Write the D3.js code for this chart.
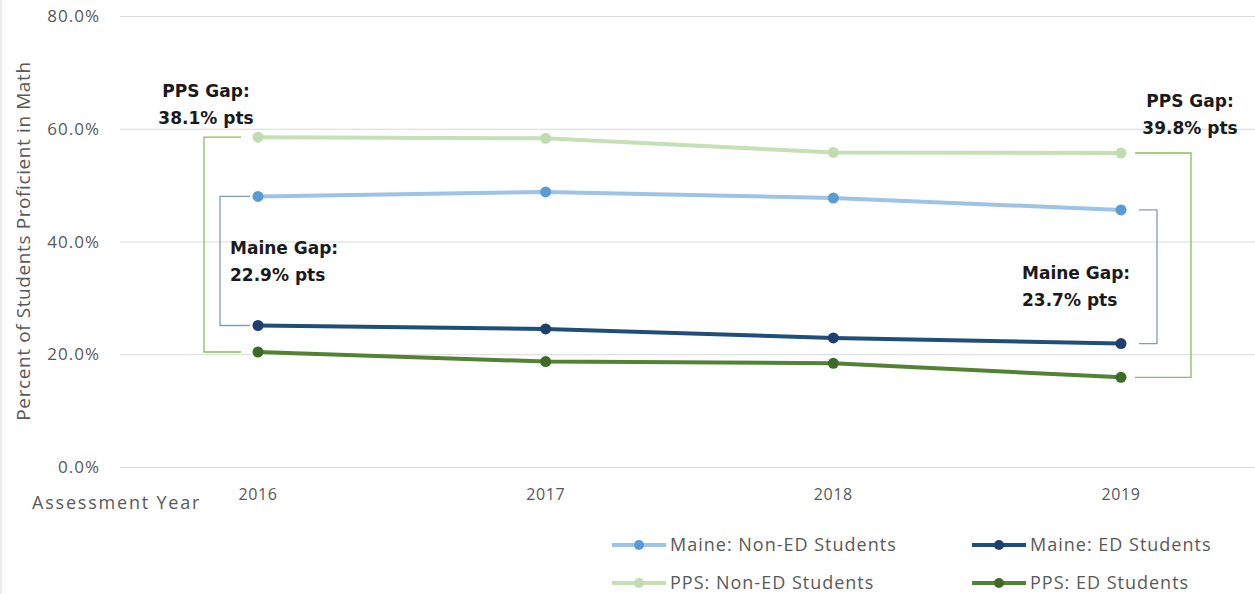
<!DOCTYPE html>
<html>
<head>
<meta charset="utf-8">
<script src="https://cdn.jsdelivr.net/npm/d3@7"></script>
<style>
  body { margin: 0; background: #fff; }
  svg { display: block; font-family: 'Open Sans', sans-serif; }
</style>
</head>
<body>
<svg id="chart"></svg>
<script>
const years = ['2016', '2017', '2018', '2019'];
const maineNonEd = [48.0, 48.8, 47.7, 45.6];
const maineEd = [25.1, 24.5, 22.9, 21.9];
const ppsNonEd = [58.5, 58.3, 55.8, 55.7];
const ppsEd = [20.4, 18.7, 18.4, 15.9];
const yTicks = [0, 20, 40, 60, 80];

const series = [
  { name: 'Maine: Non-ED Students', values: maineNonEd, line: '#9dc3e6', dot: '#5b9bd5' },
  { name: 'Maine: ED Students', values: maineEd, line: '#1f4e79', dot: '#1f3f6e' },
  { name: 'PPS: Non-ED Students', values: ppsNonEd, line: '#c5e0b4', dot: '#c0dcb0' },
  { name: 'PPS: ED Students', values: ppsEd, line: '#548235', dot: '#3d6b26' }
];

const width = 1255, height = 594;
const svg = d3.select('#chart').attr('width', width).attr('height', height);

const x = d3.scalePoint().domain(years).range([258, 1121]);
const y = d3.scaleLinear().domain([0, 80]).range([467, 16]);

// left border
svg.append('line').attr('x1', 1).attr('x2', 1).attr('y1', 0).attr('y2', height)
  .attr('stroke', '#d9d9d9').attr('stroke-width', 1);

// grid + y labels
const yAxis = svg.append('g');
yAxis.selectAll('line').data(yTicks).enter().append('line')
  .attr('x1', 120).attr('x2', width)
  .attr('y1', d => y(d) + 0.5).attr('y2', d => y(d) + 0.5)
  .attr('stroke', '#d9d9d9').attr('stroke-width', 1);
yAxis.selectAll('text').data(yTicks).enter().append('text')
  .attr('x', 100).attr('y', d => y(d) + 6)
  .attr('text-anchor', 'end')
  .attr('fill', '#595959').attr('font-size', 17).attr('letter-spacing', 1)
  .text(d => d3.format('.1f')(d) + '%');

svg.append('text')
  .attr('transform', 'translate(30,241) rotate(-90)')
  .attr('text-anchor', 'middle')
  .attr('fill', '#595959').attr('font-size', 19).attr('letter-spacing', 0.6)
  .text('Percent of Students Proficient in Math');

// x labels
svg.selectAll('.xlab').data(years).enter().append('text')
  .attr('class', 'xlab')
  .attr('x', d => x(d)).attr('y', 500)
  .attr('text-anchor', 'middle')
  .attr('fill', '#595959').attr('font-size', 16).attr('letter-spacing', 0.6)
  .text(d => d);
svg.append('text').attr('x', 32).attr('y', 509)
  .attr('fill', '#595959').attr('font-size', 18).attr('letter-spacing', 1.8)
  .text('Assessment Year');

// brackets
const bracket = (xe, xv, v1, v2, color) => {
  const p = d3.path();
  p.moveTo(xe, y(v1));
  p.lineTo(xv, y(v1));
  p.lineTo(xv, y(v2));
  p.lineTo(xe, y(v2));
  svg.append('path').attr('d', p.toString())
    .attr('fill', 'none').attr('stroke', color).attr('stroke-width', 1.3);
};
bracket(241, 204, ppsNonEd[0], ppsEd[0], '#8cbb5e');
bracket(250, 220, maineNonEd[0], maineEd[0], '#7f9cc0');
bracket(1135, 1191, ppsNonEd[3], ppsEd[3], '#8cbb5e');
bracket(1139, 1157, maineNonEd[3], maineEd[3], '#7f9cc0');

// lines
const line = d3.line().x((d, i) => x(years[i])).y(d => y(d));
const g = svg.append('g');
series.forEach(s => {
  g.append('path').datum(s.values)
    .attr('d', line)
    .attr('fill', 'none').attr('stroke', s.line).attr('stroke-width', 4)
    .attr('stroke-linecap', 'round');
  g.selectAll(null).data(s.values).enter().append('circle')
    .attr('cx', (d, i) => x(years[i])).attr('cy', d => y(d))
    .attr('r', 5.5).attr('fill', s.dot);
});

// gap labels
const labels = [
  { t: ['PPS Gap:', '38.1% pts'], x: 206, y: 97, anchor: 'middle' },
  { t: ['Maine Gap:', '22.9% pts'], x: 230, y: 254, anchor: 'start' },
  { t: ['PPS Gap:', '39.8% pts'], x: 1190, y: 107, anchor: 'middle' },
  { t: ['Maine Gap:', '23.7% pts'], x: 1022, y: 279, anchor: 'start' }
];
labels.forEach(l => {
  l.t.forEach((s, i) => {
    svg.append('text').attr('x', l.x).attr('y', l.y + i * 27)
      .attr('text-anchor', l.anchor)
      .attr('font-family', "'DejaVu Sans', sans-serif")
      .attr('font-weight', 'bold').attr('font-size', 17)
      .attr('fill', '#1a1a1a')
      .text(s);
  });
});

// legend
const legX = [612, 972], legY = [545, 583];
series.forEach((s, i) => {
  const lx = legX[i % 2], ly = legY[Math.floor(i / 2)];
  const lg = svg.append('g').attr('transform', `translate(${lx},${ly})`);
  lg.append('line').attr('x1', 0).attr('x2', 54).attr('y1', 0).attr('y2', 0)
    .attr('stroke', s.line).attr('stroke-width', 4);
  lg.append('circle').attr('cx', 27).attr('cy', 0).attr('r', 5).attr('fill', s.dot);
  lg.append('text').attr('x', 58).attr('y', 6)
    .attr('fill', '#595959').attr('font-size', 18).attr('letter-spacing', 1)
    .text(s.name);
});
</script>
</body>
</html>
